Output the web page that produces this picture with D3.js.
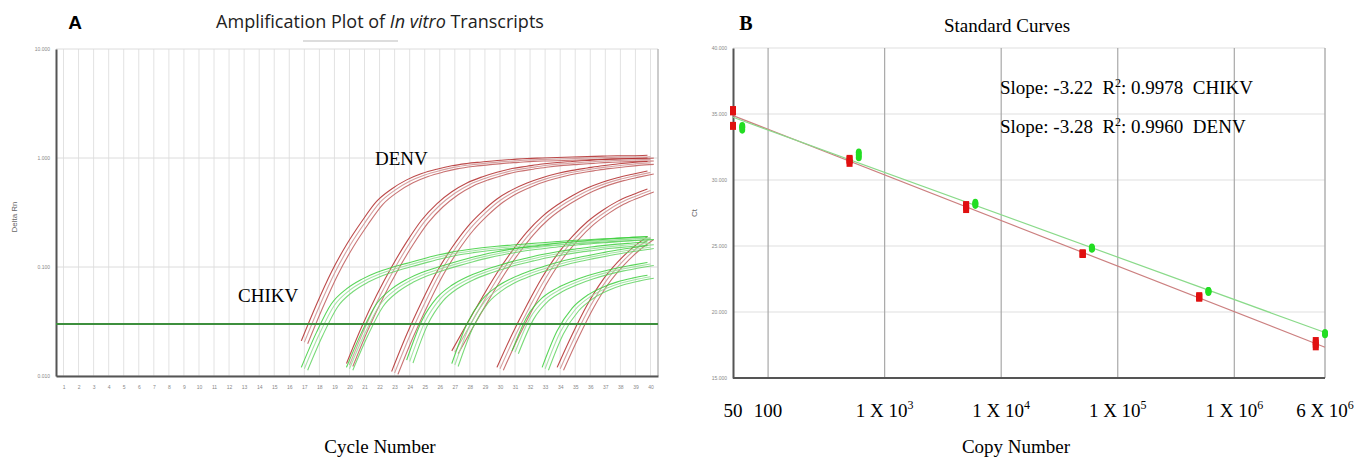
<!DOCTYPE html>
<html>
<head>
<meta charset="utf-8">
<script src="https://cdn.jsdelivr.net/npm/d3@7"></script>
<style>
  body { margin: 0; background: #fff; }
  svg { display: block; }
</style>
</head>
<body>
<svg id="chart" width="1363" height="457"></svg>
<script>
'use strict';

// ---- panel A : amplification curves (Delta Rn per cycle) ----
const cycleTicks = d3.range(1, 41);
const rnTicks = [0.01, 0.1, 1, 10];
const threshold = 0.03;

// first cycle drawn for each dilution group + Delta Rn from that cycle to 40
const denvStart = [17, 20, 23, 27, 30, 34];
const denvValues = [
  [0.021, 0.045, 0.09, 0.16, 0.26, 0.40, 0.52, 0.63, 0.72, 0.79, 0.85, 0.89, 0.92, 0.95, 0.97, 0.99, 1.0, 1.01, 1.02, 1.03, 1.04, 1.05, 1.05, 1.06],
  [0.013, 0.028, 0.055, 0.10, 0.17, 0.27, 0.38, 0.49, 0.59, 0.67, 0.74, 0.80, 0.84, 0.88, 0.91, 0.93, 0.95, 0.97, 0.98, 0.99, 1.0],
  [0.011, 0.024, 0.048, 0.09, 0.15, 0.23, 0.32, 0.42, 0.51, 0.59, 0.66, 0.72, 0.77, 0.81, 0.85, 0.88, 0.91, 0.93],
  [0.017, 0.03, 0.052, 0.088, 0.14, 0.21, 0.29, 0.37, 0.45, 0.53, 0.60, 0.66, 0.71, 0.76],
  [0.012, 0.024, 0.045, 0.08, 0.13, 0.19, 0.26, 0.33, 0.40, 0.46, 0.52],
  [0.012, 0.024, 0.045, 0.075, 0.11, 0.15, 0.19]
];
const chikvStart = [17, 20, 24, 27, 31, 33];
const chikvValues = [
  [0.012, 0.025, 0.046, 0.063, 0.077, 0.089, 0.099, 0.108, 0.118, 0.128, 0.137, 0.144, 0.150, 0.155, 0.159, 0.163, 0.167, 0.171, 0.175, 0.178, 0.181, 0.184, 0.187, 0.19],
  [0.012, 0.025, 0.046, 0.063, 0.077, 0.089, 0.099, 0.109, 0.119, 0.129, 0.138, 0.146, 0.153, 0.159, 0.165, 0.170, 0.175, 0.179, 0.183, 0.187, 0.19],
  [0.014, 0.032, 0.052, 0.068, 0.081, 0.092, 0.102, 0.112, 0.121, 0.130, 0.138, 0.145, 0.151, 0.157, 0.162, 0.166, 0.17],
  [0.013, 0.030, 0.050, 0.066, 0.079, 0.090, 0.100, 0.110, 0.119, 0.127, 0.135, 0.143, 0.150, 0.157],
  [0.017, 0.035, 0.052, 0.064, 0.074, 0.083, 0.091, 0.098, 0.104, 0.11],
  [0.012, 0.026, 0.042, 0.055, 0.065, 0.073, 0.079, 0.084]
];
// triplicate wells: small cycle shift and Rn factor per replicate
const repShift = [-0.2, 0, 0.22];
const repScale = [1.0, 0.97, 0.94];

// ---- panel B : standard curves ----
const denvCopies = [50, 500, 5e3, 5e4, 5e5, 5e6];
const denvCt = [[35.3, 34.1, 35.2], [31.3, 31.6, 31.5], [27.8, 28.1, 28.0], [24.4, 24.4, 24.45], [21.1, 21.1, 21.2], [17.4, 17.8, 17.6]];
const chikvCopies = [60, 600, 6e3, 6e4, 6e5, 6e6];
const chikvCt = [[33.8, 34.1, 34.0], [31.7, 32.1, 31.9], [28.2, 28.3, 28.1], [24.8, 24.9, 24.8], [21.6, 21.6, 21.5], [18.4, 18.4, 18.3]];
const ctTicks = [15, 20, 25, 30, 35, 40];
const copyGrid = [100, 1e3, 1e4, 1e5, 1e6];
const copyLabels = [
  {v: 50, base: "50"}, {v: 100, base: "100"}, {v: 1e3, base: "1 X 10", exp: "3"},
  {v: 1e4, base: "1 X 10", exp: "4"}, {v: 1e5, base: "1 X 10", exp: "5"},
  {v: 1e6, base: "1 X 10", exp: "6"}, {v: 6e6, base: "6 X 10", exp: "6"}
];
const fitText = [
  {slope: "-3.22", r2: "0.9978", name: "CHIKV"},
  {slope: "-3.28", r2: "0.9960", name: "DENV"}
];

const svg = d3.select("#chart");
const serif = "'Liberation Serif', 'Times New Roman', serif";
const sans = "'Liberation Sans', Arial, sans-serif";

// ================= panel A =================
const xA = d3.scaleLinear().domain([0.5, 40.5]).range([56, 658]);
const yA = d3.scaleLog().domain([0.01, 10]).range([376, 49]);

const gA = svg.append("g");

gA.selectAll(".vgrid")
  .data(cycleTicks)
  .enter().append("line")
    .attr("x1", (d) => xA(d)).attr("x2", (d) => xA(d))
    .attr("y1", yA(10)).attr("y2", yA(0.01))
    .attr("stroke", "#e2e2e2").attr("stroke-width", 1);

gA.selectAll(".hgrid")
  .data(rnTicks)
  .enter().append("line")
    .attr("x1", xA.range()[0]).attr("x2", xA.range()[1])
    .attr("y1", (d) => yA(d)).attr("y2", (d) => yA(d))
    .attr("stroke", "#dcdcdc").attr("stroke-width", 1);

gA.append("line")
  .attr("x1", xA.range()[1]).attr("x2", xA.range()[1])
  .attr("y1", yA(10)).attr("y2", yA(0.01))
  .attr("stroke", "#bbb").attr("stroke-width", 1.5);

gA.append("g")
  .attr("transform", "translate(0," + yA(0.01) + ")")
  .call(d3.axisBottom(xA).tickValues(cycleTicks).tickSize(0).tickPadding(9))
  .call((g) => g.select(".domain").attr("stroke", "#555").attr("stroke-width", 2))
  .call((g) => g.selectAll("text").attr("fill", "#888").style("font", "5px " + sans));

gA.append("g")
  .attr("transform", "translate(" + xA.range()[0] + ",0)")
  .call(d3.axisLeft(yA).tickValues(rnTicks).tickSize(0).tickPadding(6).tickFormat(d3.format(".3f")))
  .call((g) => g.select(".domain").attr("stroke", "#555").attr("stroke-width", 2))
  .call((g) => g.selectAll("text").attr("fill", "#888").style("font", "5px " + sans));

gA.append("text")
  .attr("transform", "translate(17," + 217 + ") rotate(-90)")
  .attr("text-anchor", "middle")
  .attr("fill", "#666")
  .style("font", "8px " + sans)
  .text("Delta Rn");

svg.append("clipPath").attr("id", "clipA")
  .append("rect").attr("x", 57).attr("y", 49).attr("width", 600).attr("height", 326);

const lineA = d3.line()
  .curve(d3.curveMonotoneX)
  .x((d) => xA(d.c))
  .y((d) => yA(d.v));

const makeCurves = (starts, values) => {
  const out = [];
  values.forEach((vals, gi) => {
    repShift.forEach((s, ri) => {
      out.push({rep: ri, pts: vals.map((v, i) => ({c: starts[gi] + i + s, v: v * repScale[ri]}))});
    });
  });
  return out;
};

const curves = gA.append("g").attr("clip-path", "url(#clipA)").attr("fill", "none");
const denvColors = ["#b22a2a", "#cf9191", "#bf5b5b"];
const chikvColors = ["#3ccf3c", "#96df96", "#62d462"];

curves.selectAll(".denv")
  .data(makeCurves(denvStart, denvValues))
  .enter().append("path")
    .attr("d", (d) => lineA(d.pts))
    .attr("stroke", (d) => denvColors[d.rep])
    .attr("stroke-width", 1.1)
    .attr("stroke-opacity", 0.85);

curves.selectAll(".chikv")
  .data(makeCurves(chikvStart, chikvValues))
  .enter().append("path")
    .attr("d", (d) => lineA(d.pts))
    .attr("stroke", (d) => chikvColors[d.rep])
    .attr("stroke-width", 1.1)
    .attr("stroke-opacity", 0.85);

gA.append("line")
  .attr("x1", xA.range()[0]).attr("x2", xA.range()[1])
  .attr("y1", yA(threshold)).attr("y2", yA(threshold))
  .attr("stroke", "#3d8f3d").attr("stroke-width", 2);

gA.append("text")
  .attr("x", 75).attr("y", 29)
  .attr("text-anchor", "middle")
  .style("font", "bold 19px " + sans)
  .text("A");

const titleA = gA.append("text")
  .attr("x", 380).attr("y", 28)
  .attr("text-anchor", "middle")
  .attr("fill", "#222")
  .style("font", "18px 'Open Sans', sans-serif");
titleA.append("tspan").text("Amplification Plot of ");
titleA.append("tspan").style("font-style", "italic").text("In vitro");
titleA.append("tspan").text(" Transcripts");

gA.append("line")
  .attr("x1", 303).attr("x2", 398).attr("y1", 41).attr("y2", 41)
  .attr("stroke", "#bbb").attr("stroke-width", 1);

gA.append("text")
  .attr("x", 375).attr("y", 165)
  .style("font", "19px " + serif)
  .text("DENV");

gA.append("text")
  .attr("x", 238).attr("y", 302)
  .style("font", "19px " + serif)
  .text("CHIKV");

gA.append("text")
  .attr("x", 380).attr("y", 453)
  .attr("text-anchor", "middle")
  .style("font", "19px " + serif)
  .text("Cycle Number");

// ================= panel B =================
const xB = d3.scaleLog().domain([50, 6e6]).range([733, 1325]);
const yB = d3.scaleLinear().domain([15, 40]).range([378, 48]);

const gB = svg.append("g");

gB.selectAll(".hgrid")
  .data(ctTicks)
  .enter().append("line")
    .attr("x1", xB.range()[0]).attr("x2", xB.range()[1])
    .attr("y1", (d) => yB(d)).attr("y2", (d) => yB(d))
    .attr("stroke", "#e0e0e0").attr("stroke-width", 1.2);

gB.selectAll(".vgrid")
  .data(copyGrid)
  .enter().append("line")
    .attr("x1", (d) => xB(d)).attr("x2", (d) => xB(d))
    .attr("y1", yB(40)).attr("y2", yB(15))
    .attr("stroke", "#a8a8a8").attr("stroke-width", 1.2);

gB.append("line")
  .attr("x1", xB.range()[1]).attr("x2", xB.range()[1])
  .attr("y1", yB(40)).attr("y2", yB(15))
  .attr("stroke", "#b0b0b0").attr("stroke-width", 1.5);

gB.append("g")
  .attr("transform", "translate(" + xB.range()[0] + ",0)")
  .call(d3.axisLeft(yB).tickValues(ctTicks).tickSize(0).tickPadding(6).tickFormat(d3.format(".3f")))
  .call((g) => g.select(".domain").attr("stroke", "#555").attr("stroke-width", 2))
  .call((g) => g.selectAll("text").attr("fill", "#888").style("font", "5px " + sans));

gB.append("line")
  .attr("x1", xB.range()[0]).attr("x2", xB.range()[1])
  .attr("y1", yB(15)).attr("y2", yB(15))
  .attr("stroke", "#555").attr("stroke-width", 2);

gB.append("text")
  .attr("transform", "translate(697,213) rotate(-90)")
  .attr("text-anchor", "middle")
  .attr("fill", "#666")
  .style("font", "8px " + sans)
  .text("Ct");

// least squares fit of Ct against log10(copies)
const fit = (copies, cts) => {
  const pts = [];
  copies.forEach((c, i) => cts[i].forEach((ct) => pts.push([Math.log10(c), ct])));
  const mx = d3.mean(pts, (p) => p[0]), my = d3.mean(pts, (p) => p[1]);
  const b = d3.sum(pts, (p) => (p[0] - mx) * (p[1] - my)) / d3.sum(pts, (p) => (p[0] - mx) ** 2);
  return (c) => my + b * (Math.log10(c) - mx);
};
const fitDenv = fit(denvCopies, denvCt);
const fitChikv = fit(chikvCopies, chikvCt);

gB.append("line")
  .attr("x1", xB(50)).attr("x2", xB(6e6))
  .attr("y1", yB(fitDenv(50))).attr("y2", yB(fitDenv(6e6)))
  .attr("stroke", "#cc8080").attr("stroke-width", 1.2);

gB.append("line")
  .attr("x1", xB(50)).attr("x2", xB(6e6))
  .attr("y1", yB(fitChikv(50))).attr("y2", yB(fitChikv(6e6)))
  .attr("stroke", "#8ada8a").attr("stroke-width", 1.2);

const flat = (copies, cts) => copies.flatMap((c, i) => cts[i].map((ct) => ({c, ct})));

gB.selectAll(".denvPt")
  .data(flat(denvCopies, denvCt))
  .enter().append("rect")
    .attr("x", (d) => xB(d.c) - 3)
    .attr("y", (d) => yB(d.ct) - 4)
    .attr("width", 6).attr("height", 8)
    .attr("fill", "#e01010");

gB.selectAll(".chikvPt")
  .data(flat(chikvCopies, chikvCt))
  .enter().append("ellipse")
    .attr("cx", (d) => xB(d.c))
    .attr("cy", (d) => yB(d.ct))
    .attr("rx", 3).attr("ry", 3.8)
    .attr("fill", "#22dd22");

const fitLabels = gB.selectAll(".fitLabel")
  .data(fitText)
  .enter().append("text")
    .attr("x", 1000)
    .attr("y", (d, i) => 94 + i * 39)
    .style("font", "19px " + serif);
fitLabels.append("tspan").text((d) => "Slope: " + d.slope + "\u00a0 R");
fitLabels.append("tspan").attr("dy", -7).style("font-size", "12px").text("2");
fitLabels.append("tspan").attr("dy", 7).text((d) => ": " + d.r2 + "\u00a0 " + d.name);

const cl = gB.selectAll(".copyLabel")
  .data(copyLabels)
  .enter().append("text")
    .attr("x", (d) => xB(d.v))
    .attr("y", 417)
    .attr("text-anchor", "middle")
    .style("font", "19px " + serif);
cl.append("tspan").text((d) => d.base);
cl.filter((d) => d.exp).append("tspan")
  .attr("dy", -8).style("font-size", "12px").text((d) => d.exp);

gB.append("text")
  .attr("x", 746).attr("y", 30)
  .attr("text-anchor", "middle")
  .style("font", "bold 20px " + serif)
  .text("B");

gB.append("text")
  .attr("x", 1007).attr("y", 32)
  .attr("text-anchor", "middle")
  .style("font", "19px " + serif)
  .text("Standard Curves");

gB.append("text")
  .attr("x", 1016).attr("y", 453)
  .attr("text-anchor", "middle")
  .style("font", "19px " + serif)
  .text("Copy Number");
</script>
</body>
</html>
